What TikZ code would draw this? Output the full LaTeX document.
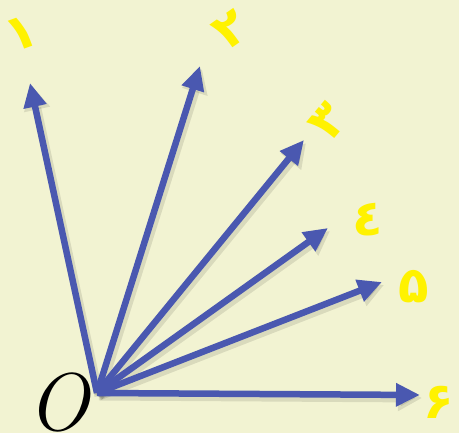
\documentclass[tikz,border=0pt]{standalone}
\usepackage{fontspec}
\newfontfamily\arabicfont[Script=Arabic]{DejaVu Sans}
\usetikzlibrary{arrows.meta}
\definecolor{bgc}{HTML}{F2F3D2}
\definecolor{vec}{HTML}{4A58B0}
\definecolor{lab}{HTML}{FFF200}
\tikzset{
  vecarrow/.style={draw=vec, line width=6.5pt, -{Triangle[length=24pt,width=22pt]}},
  shadowarrow/.style={draw=black, opacity=0.10, line width=9pt, -{Triangle[length=24pt,width=25pt]}},
  digit/.style={text=lab, font=\arabicfont\bfseries\fontsize{50}{50}\selectfont, inner sep=0pt}
}
\begin{document}
\begin{tikzpicture}[x=1pt,y=1pt]
\fill[bgc] (0,0) rectangle (459,433);
\useasboundingbox (0,0) rectangle (459,433);
\coordinate (o) at (97,40);
\coordinate (t1) at (30,350);
\coordinate (t2) at (200,367);
\coordinate (t3) at (304,293);
\coordinate (t4) at (328,205);
\coordinate (t5) at (382,151);
\coordinate (t6) at (420,38);
\coordinate (os) at (99,37);
\foreach \i/\dx/\dy in {1/2/-3,2/2/-3,3/2/-3,4/2/-3,5/2/-3,6/2/-3}{
  \draw[shadowarrow] (os) -- ([shift={(\dx,\dy)}]t\i);
}
\foreach \i in {1,...,6}{
  \draw[vecarrow] (o) -- (t\i);
}
\node[digit, rotate=20] (l1) at (21,400) {۱};
\node[digit, rotate=35] (l2) at (231,403) {۲};
\node[digit, rotate=50] (l3) at (328,311) {۳};
\node[digit] (l4) at (368,213) {٤};
\node[digit] (l5) at (414,146) {۵};
\node[digit] (l6) at (439,31) {۶};
\node[inner sep=0pt, font=\fontsize{82}{82}\selectfont\itshape] (O) at (58,30) {O};
\end{tikzpicture}
\end{document}
